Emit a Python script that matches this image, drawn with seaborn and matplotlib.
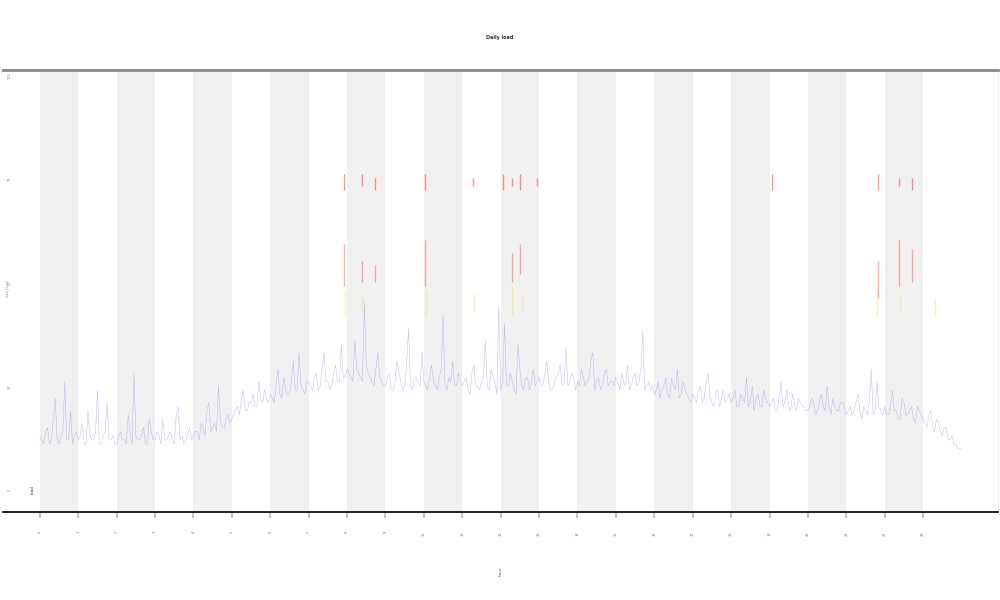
import numpy as np
import pandas as pd
import seaborn as sns
import matplotlib.pyplot as plt

# hourly load trace, two interleaved sets of 10 samples per hour
hours_a = [h / 10 for h in range(241)]
load_a = [
    13, 11, 15, 12, 22, 11, 14, 12, 19, 13,
    12, 16, 11, 13, 12, 24, 11, 14, 12, 13,
    11, 14, 12, 18, 11, 13, 12, 15, 11, 14,
    12, 13, 17, 12, 14, 11, 20, 13, 12, 15,
    13, 14, 16, 13, 21, 15, 14, 17, 15, 18,
    17, 19, 18, 24, 19, 21, 20, 26, 21, 22,
    23, 21, 29, 22, 24, 23, 31, 24, 25, 23,
    26, 24, 28, 25, 33, 26, 25, 30, 26, 27,
    29, 27, 36, 28, 26, 30, 27, 25, 33, 26,
    25, 28, 24, 31, 26, 25, 39, 24, 27, 25,
    26, 24, 30, 25, 27, 42, 24, 26, 25, 28,
    25, 27, 23, 30, 25, 26, 36, 24, 27, 23,
    24, 40, 25, 26, 23, 29, 24, 27, 26, 25,
    27, 25, 31, 24, 26, 28, 25, 34, 26, 27,
    26, 29, 25, 27, 33, 26, 24, 28, 25, 26,
    27, 24, 26, 30, 25, 28, 26, 38, 25, 24,
    23, 26, 24, 27, 22, 25, 29, 23, 24, 22,
    23, 21, 25, 22, 28, 21, 23, 20, 24, 22,
    21, 24, 20, 22, 27, 21, 19, 23, 20, 22,
    20, 22, 19, 26, 21, 20, 23, 19, 21, 20,
    19, 22, 18, 21, 20, 25, 18, 20, 19, 21,
    18, 20, 19, 23, 17, 19, 21, 18, 26, 19,
    20, 18, 24, 19, 17, 21, 18, 20, 16, 19,
    17, 15, 19, 14, 16, 13, 15, 12, 11, 10,
    10,
]
hours_b = [h / 10 + 0.05 for h in range(240)]
load_b = [
    12, 14, 11, 17, 12, 13, 26, 12, 11, 14,
    13, 11, 19, 12, 14, 11, 13, 21, 12, 11,
    13, 12, 11, 14, 28, 12, 13, 11, 17, 12,
    14, 11, 12, 13, 12, 18, 12, 11, 13, 12,
    14, 12, 15, 19, 14, 16, 25, 15, 17, 16,
    18, 20, 22, 19, 21, 23, 20, 22, 24, 21,
    22, 25, 23, 27, 23, 26, 24, 33, 24, 26,
    25, 27, 24, 29, 26, 24, 28, 26, 35, 27,
    28, 26, 29, 27, 45, 28, 26, 29, 27, 25,
    27, 24, 26, 28, 24, 30, 25, 27, 26, 33,
    25, 27, 26, 24, 29, 25, 27, 31, 25, 26,
    26, 24, 28, 25, 24, 27, 25, 29, 26, 44,
    26, 25, 28, 24, 35, 25, 27, 24, 29, 26,
    25, 28, 26, 24, 27, 30, 26, 25, 28, 24,
    25, 27, 26, 31, 24, 27, 25, 29, 26, 25,
    26, 28, 25, 24, 27, 25, 29, 24, 26, 25,
    24, 22, 25, 23, 27, 24, 22, 26, 23, 21,
    22, 24, 21, 26, 22, 20, 24, 22, 21, 23,
    22, 20, 23, 21, 20, 25, 22, 20, 24, 21,
    21, 19, 22, 20, 24, 19, 21, 22, 20, 19,
    20, 21, 19, 23, 19, 20, 22, 19, 21, 20,
    19, 18, 21, 19, 20, 18, 29, 19, 20, 18,
    18, 20, 19, 17, 22, 18, 19, 17, 20, 18,
    16, 18, 15, 17, 14, 15, 12, 13, 11, 10,
]

# high readings (red) and warning readings (yellow)
high_x = [7.92, 8.39, 8.72, 10.03, 11.28, 12.06, 12.29, 12.5, 12.94, 19.06, 21.82, 22.37, 22.71]
high_lo = [72, 73, 72, 72, 73, 72, 73, 72, 73, 72, 72, 73, 72]
high_hi = [76, 76, 75, 76, 75, 76, 75, 76, 75, 76, 76, 75, 75]
high2_x = [7.92, 8.39, 8.72, 10.03, 12.29, 12.5, 21.82, 22.37, 22.71]
high2_lo = [49, 50, 50, 49, 50, 52, 46, 49, 50]
high2_hi = [59, 55, 54, 60, 57, 59, 55, 60, 58]
warn_x = [7.95, 8.4, 10.05, 11.3, 12.3, 12.55, 21.8, 22.4, 23.3]
warn_lo = [42, 43, 42, 43, 42, 43, 42, 43, 42]
warn_hi = [48, 47, 48, 47, 49, 47, 48, 47, 46]

yticks = [0, 25, 50, 75, 100]

df = pd.concat([
    pd.DataFrame({"hour": hours_a, "load": load_a}),
    pd.DataFrame({"hour": hours_b, "load": load_b}),
]).sort_values("hour")

sns.set_theme(style="white")
fig = plt.figure(figsize=(10, 6), dpi=100)
ax = fig.add_axes([0.003, 0.147, 0.995, 0.736])

for h in range(0, 24, 2):
    ax.axvspan(h, h + 1, color="#f0f0f0", lw=0, zorder=0)

sns.lineplot(data=df, x="hour", y="load", color="#6a6af0", lw=0.35, alpha=0.45,
             estimator=None, sort=True, ax=ax)
ax.vlines(warn_x, warn_lo, warn_hi, color="#f5e070", lw=1, alpha=0.5)
ax.vlines(high2_x, high2_lo, high2_hi, color="#ff4a4a", lw=1, alpha=0.45)
ax.vlines(high_x, high_lo, high_hi, color="#ff3a3a", lw=1, alpha=0.55)

ax.set_xlim(-0.96, 24.95)
ax.set_ylim(-5.3, 100.9)
ax.set_xticks(range(24))
ax.set_xticklabels([str(h) for h in range(24)])
ax.set_yticks(yticks)
ax.set_yticklabels([str(v) for v in yticks])
ax.tick_params(axis="x", length=4, color="#bbbbbb", labelsize=2.5, labelrotation=90,
               pad=10, labelcolor="#777777", bottom=True)
ax.tick_params(axis="y", length=0, labelsize=2.5, labelrotation=90, pad=-6,
               labelcolor="#888888")

ax.spines["left"].set_visible(False)
ax.spines["top"].set_color("#888888")
ax.spines["top"].set_linewidth(2)
ax.spines["bottom"].set_color("#111111")
ax.spines["bottom"].set_linewidth(1.3)
ax.spines["right"].set_color("#eeeeee")
ax.spines["right"].set_linewidth(0.6)

ax.set_xlabel("hour", fontsize=3, rotation=90, labelpad=22, color="#555555")
ax.set_ylabel("")
fig.text(0.005, 0.52, "load_level", fontsize=2.5, rotation=90, color="#888888",
         ha="left", va="center")
ax.text(-0.2, 0.0, "load", fontsize=3, rotation=90, ha="center", va="center",
        color="#333333", bbox=dict(boxstyle="square,pad=0.3", fc="white", ec="none"))
fig.text(0.5, 0.937, "Daily load", fontsize=3.5, fontweight="bold", ha="center",
         va="center", color="#333333")

fig.savefig("out.png", dpi=100)
